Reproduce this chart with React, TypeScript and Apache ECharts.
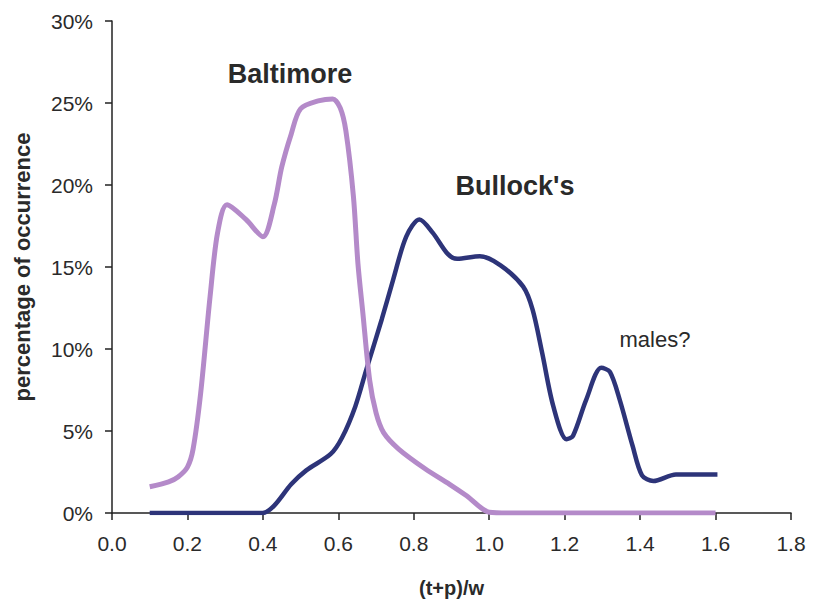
import React, { useEffect, useRef } from "react";
import * as echarts from "echarts";

// Baltimore series: x = (t+p)/w, y = percentage of occurrence
const baltimoreX = [
  0.1, 0.15, 0.175, 0.2, 0.215, 0.235, 0.26, 0.28, 0.305, 0.355, 0.4, 0.43, 0.45,
  0.475, 0.5, 0.55, 0.585, 0.605, 0.62, 0.64, 0.652, 0.665, 0.683, 0.7, 0.72, 0.76,
  0.83, 0.895, 0.94, 1.0, 1.05, 1.6,
];
const baltimoreY = [
  1.6, 1.9, 2.2, 2.8, 3.9, 7.3, 13.2, 17.1, 18.8, 17.9, 16.85, 18.8, 21.1,
  23.1, 24.65, 25.15, 25.25, 24.7, 23.3, 19.3, 15.2, 12.2, 8.1, 6.1, 4.9, 3.9,
  2.7, 1.75, 1.05, 0.05, 0, 0,
];

// Bullock's series
const bullocksX = [
  0.1, 0.35, 0.4, 0.43, 0.475, 0.515, 0.58, 0.61, 0.645, 0.675, 0.715, 0.745, 0.78,
  0.815, 0.85, 0.89, 0.915, 0.975, 1.03, 1.09, 1.115, 1.14, 1.17, 1.205, 1.222,
  1.257, 1.297, 1.32, 1.346, 1.38, 1.405, 1.435, 1.495, 1.605,
];
const bullocksY = [
  0, 0, 0, 0.45, 1.75, 2.6, 3.6, 4.6, 6.5, 8.8, 11.8, 14.2, 16.85,
  17.9, 17.1, 15.8, 15.5, 15.65, 15.1, 13.8, 12.4, 9.8, 6.5, 4.5, 4.7,
  6.9, 8.85, 8.6, 6.9, 4.1, 2.3, 1.95, 2.35, 2.35,
];

const seriesNames = ["Baltimore", "Bullock's"];
const annotationText = "males?";

const FONT = "'Liberation Sans', Arial, sans-serif";
const TEXT = "#2a2a2a";

export default function App() {
  const ref = useRef<HTMLDivElement>(null);

  useEffect(() => {
    if (!ref.current) return;
    const chart = echarts.init(ref.current, null, { renderer: "svg" });
    const pair = (xs: number[], ys: number[]) => xs.map((x, i) => [x, ys[i]]);

    chart.setOption({
      animation: false,
      backgroundColor: "#ffffff",
      grid: { left: 112, right: 31, top: 21, bottom: 89 },
      xAxis: {
        type: "value",
        min: 0,
        max: 1.8,
        interval: 0.2,
        name: "(t+p)/w",
        nameLocation: "middle",
        nameGap: 65,
        nameTextStyle: { fontFamily: FONT, fontSize: 20, fontWeight: "bold", color: TEXT },
        axisLine: { show: true, onZero: false, lineStyle: { color: "#222", width: 1.5 } },
        axisTick: { show: true, inside: false, length: 7, lineStyle: { color: "#222", width: 1.5 } },
        axisLabel: {
          fontFamily: FONT,
          fontSize: 21,
          color: TEXT,
          margin: 20,
          formatter: (v: number) => v.toFixed(1),
        },
        splitLine: { show: false },
      },
      yAxis: {
        type: "value",
        min: 0,
        max: 30,
        interval: 5,
        name: "percentage of occurrence",
        nameLocation: "middle",
        nameGap: 79,
        nameTextStyle: { fontFamily: FONT, fontSize: 22, fontWeight: "bold", color: TEXT },
        axisLine: { show: true, lineStyle: { color: "#222", width: 1.5 } },
        axisTick: { show: true, inside: false, length: 7, lineStyle: { color: "#222", width: 1.5 } },
        axisLabel: {
          fontFamily: FONT,
          fontSize: 21,
          color: TEXT,
          margin: 19,
          formatter: (v: number) => v + "%",
        },
        splitLine: { show: false },
      },
      series: [
        {
          name: seriesNames[1],
          type: "line",
          data: pair(bullocksX, bullocksY),
          smooth: 0.3,
          showSymbol: false,
          lineStyle: { color: "#2d3479", width: 4.5 },
          z: 2,
        },
        {
          name: seriesNames[0],
          type: "line",
          data: pair(baltimoreX, baltimoreY),
          smooth: 0.3,
          showSymbol: false,
          lineStyle: { color: "#b48ac9", width: 5 },
          z: 3,
        },
      ],
      graphic: [
        {
          type: "text",
          x: 290,
          y: 74,
          style: {
            text: seriesNames[0],
            fontFamily: FONT,
            fontSize: 27,
            fontWeight: "bold",
            fill: TEXT,
            align: "center",
            verticalAlign: "middle",
          },
        },
        {
          type: "text",
          x: 515,
          y: 186,
          style: {
            text: seriesNames[1],
            fontFamily: FONT,
            fontSize: 27,
            fontWeight: "bold",
            fill: TEXT,
            align: "center",
            verticalAlign: "middle",
          },
        },
        {
          type: "text",
          x: 655,
          y: 339,
          style: {
            text: annotationText,
            fontFamily: FONT,
            fontSize: 22,
            fill: TEXT,
            align: "center",
            verticalAlign: "middle",
          },
        },
      ],
    });

    return () => chart.dispose();
  }, []);

  return <div ref={ref} style={{ width: 822, height: 603, position: "fixed", left: 0, top: 0 }} />;
}
